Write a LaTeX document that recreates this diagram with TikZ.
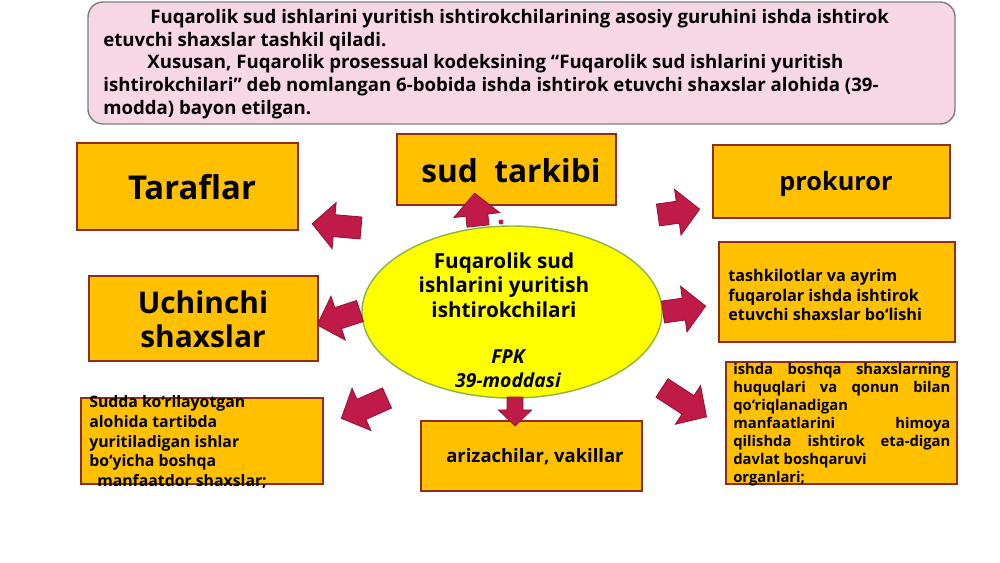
\documentclass[tikz,border=0pt]{standalone}
\usepackage{fontspec}
\setmainfont{Open Sans}
\usepackage{xcolor}
\definecolor{boxfill}{RGB}{255,192,0}
\definecolor{boxline}{RGB}{140,45,30}
\definecolor{arrfill}{RGB}{192,26,72}
\definecolor{arrline}{RGB}{150,20,50}
\definecolor{ovalfill}{RGB}{255,255,0}
\definecolor{ovalline}{RGB}{140,180,60}
\definecolor{notefill}{RGB}{247,214,230}
\definecolor{noteline}{RGB}{125,125,125}
\newcommand{\fs}[2]{\fontsize{#1pt}{#2pt}\selectfont}
% block arrow: [scale]{tail x}{tail y}{angle}{length}
\newcommand{\blockarrow}[5][1]{%
  \begin{scope}[shift={(#2,#3)}, rotate=#4, scale=#1]
    \draw[arr] (0,-11) -- (#5-22,-11) -- (#5-22,-23) -- (#5,0) -- (#5-22,23) -- (#5-22,11) -- (0,11) -- cycle;
  \end{scope}}

\begin{document}
\begin{tikzpicture}[x=0.02cm, y=-0.02cm,
    box/.style={draw=boxline, fill=boxfill, line width=0.9pt, inner sep=0pt},
    arr/.style={fill=arrfill, draw=arrline, line width=0.5pt, line join=miter},
    font=\bfseries]
        \useasboundingbox (0,0) rectangle (1000,562);
        %note on top
        \draw[fill=notefill, draw=noteline, line width=0.8pt, rounded corners=0.3cm] (88,2) rectangle (955,124);
        \node[anchor=north west, inner sep=0pt, align=left, font=\bfseries\fs{10.6}{12.9}] (note) at (103,9)
            {\hspace*{0.94cm}Fuqarolik sud ishlarini yuritish ishtirokchilarining asosiy guruhini ishda ishtirok\\
             etuvchi shaxslar tashkil qiladi.\\
             \hspace*{0.88cm}Xususan, Fuqarolik prosessual kodeksining “Fuqarolik sud ishlarini yuritish\\
             ishtirokchilari” deb nomlangan 6-bobida ishda ishtirok etuvchi shaxslar alohida (39-\\
             modda) bayon etilgan.};
        %boxes round the oval
        \node[box, minimum width=4.42cm, minimum height=1.74cm] (taraf) at (187.5,186.5) {};
        \node[font=\bfseries\fs{18.7}{20}] at (192,187) {Taraflar};
        \node[box, minimum width=4.38cm, minimum height=1.42cm] (sud) at (506.5,169.5) {};
        \node[font=\bfseries\fs{18}{20}] at (511,171) {sud\ \ tarkibi};
        \node[box, minimum width=4.74cm, minimum height=1.46cm] (prok) at (831.5,181.5) {};
        \node[font=\bfseries\fs{14.4}{16}] at (836,184) {prokuror};
        \node[box, minimum width=4.58cm, minimum height=1.70cm] (uch) at (203.5,318.5) {};
        \node[align=center, font=\bfseries\fs{17}{19.3}] at (203,319) {Uchinchi\\shaxslar};
        \node[box, minimum width=4.72cm, minimum height=2.00cm] (tash) at (837,292) {};
        \node[anchor=west, inner sep=0pt, align=left, font=\bfseries\fs{9.2}{11.3}] at (728,295)
            {tashkilotlar va ayrim\\fuqarolar ishda ishtirok\\etuvchi shaxslar bo‘lishi};
        \node[box, minimum width=4.84cm, minimum height=1.72cm] (sudda) at (202,441) {};
        \node[anchor=north west, inner sep=0pt, align=left, font=\bfseries\fs{9}{11.3}] at (89,395)
            {Sudda ko‘rilayotgan\\alohida tartibda\\yuritiladigan ishlar\\bo‘yicha boshqa\\\hspace*{0.5em}manfaatdor shaxslar;};
        \node[box, minimum width=4.42cm, minimum height=1.40cm] (ariz) at (531.5,456) {};
        \node[font=\bfseries\fs{10.5}{12}] at (535,457) {arizachilar, vakillar};
        \node[box, minimum width=4.62cm, minimum height=2.44cm] (organ) at (841.5,423) {};
        \node[anchor=north west, inner sep=0pt, text width=4.34cm, align=justify, font=\bfseries\fs{8.4}{10.2}] at (733,363)
            {ishda boshqa shaxslarning\linebreak huquqlari va qonun bilan\linebreak qo‘riqlanadigan\\
             manfaatlarini himoya\linebreak qilishda ishtirok eta-digan\linebreak
             davlat boshqaruvi\\organlari;};
        %centre oval
        \draw[fill=ovalfill, draw=ovalline, line width=0.8pt] (512,312) ellipse (150 and 86);
        \node[align=center, font=\bfseries\fs{11.8}{13.9}] (main) at (504,285)
            {Fuqarolik sud\\ishlarini yuritish\\ishtirokchilari};
        \node[align=center, font=\bfseries\itshape\fs{11}{13.6}] (fpk) at (508,369) {FPK\\39-moddasi};
        \fill[arrfill] (501,222) circle (2.5);
        %block arrows
        \blockarrow{478}{226}{96}{33}
        \blockarrow{361}{228}{175}{49}
        \blockarrow{658}{215}{8}{42}
        \blockarrow{360}{311}{198}{45}
        \blockarrow{663}{312}{8}{43}
        \blockarrow{387}{398}{204}{50}
        \blockarrow[0.72]{515}{397}{-90}{40}
        \blockarrow{662}{388}{-33}{53}
\end{tikzpicture}
\end{document}
